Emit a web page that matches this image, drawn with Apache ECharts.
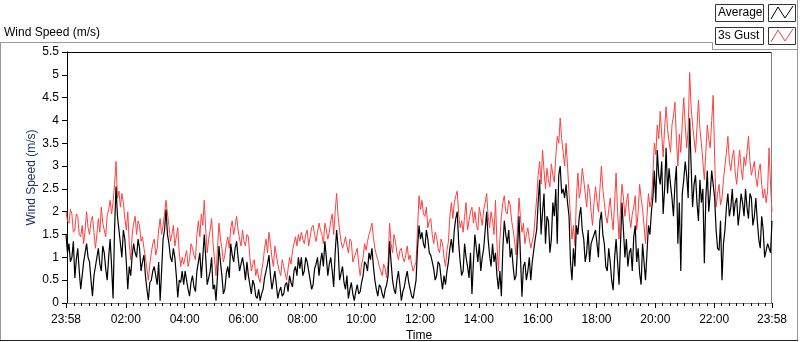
<!DOCTYPE html>
<html lang="en">
<head>
<meta charset="UTF-8">
<title>Wind Speed</title>
<style>
    html, body { margin: 0; padding: 0; background: #fff; }
    #chart { width: 800px; height: 342px; }
</style>
</head>
<body>
<div id="chart"></div>
<script src="https://cdn.jsdelivr.net/npm/echarts@6/dist/echarts.min.js"></script>
<script>
    // one sample every 3 minutes, first one at 23:58 of the day before (minute -2)
    var startMinute = -2;
    var stepMinutes = 3;

    // 3s gust (red), one row per hour
    var gust = [
        2.0, 1.8, 1.75, 2.05, 1.95, 1.55, 1.6, 1.95, 1.9, 1.5, 1.45, 1.7, 1.3, 1.6, 2.0, 1.65, 1.5, 1.8, 1.9, 1.55,
        1.2, 1.5, 1.85, 1.55, 2.1, 1.75, 1.6, 1.45, 1.9, 2.05, 2.25, 1.95, 2.2, 2.6, 3.1, 2.3, 2.45, 2.1, 2.4, 2.2,
        1.85, 1.6, 2.0, 1.3, 0.95, 1.5, 1.75, 1.9, 1.5, 1.8, 1.7, 1.35, 1.45, 1.2, 1.0, 0.75, 0.5, 0.85, 1.1, 1.3,
        1.4, 1.05, 1.2, 1.6, 1.85, 1.5, 1.7, 1.95, 2.25, 1.95, 1.7, 1.35, 1.5, 1.7, 1.25, 1.45, 1.65, 1.1, 0.8, 1.0,
        0.85, 1.0, 1.15, 0.8, 0.95, 1.3, 1.2, 1.05, 0.95, 1.5, 1.8, 1.45, 1.95, 1.7, 2.25, 1.6, 1.1, 1.4, 1.6, 1.85,
        1.3, 0.95, 0.6, 1.2, 1.75, 1.4, 1.2, 0.9, 1.05, 1.3, 1.45, 1.2, 1.65, 1.8, 1.5, 1.7, 1.9, 1.6, 1.4, 1.25,
        1.6, 1.35, 1.25, 1.5, 1.45, 1.0, 0.7, 0.85, 0.95, 0.6, 0.75, 0.55, 0.45, 0.7, 0.9, 1.2, 1.4, 1.1, 1.55, 1.3,
        1.0, 0.8, 1.25, 1.05, 0.85, 0.7, 0.6, 0.95, 0.8, 0.65, 0.5, 0.75, 1.0, 0.85, 1.15, 1.3, 1.45, 1.25, 1.5, 1.35,
        1.55, 1.4, 1.3, 1.5, 1.6, 1.25, 1.45, 1.65, 1.7, 1.5, 1.35, 1.55, 1.75, 1.6, 1.5, 1.3, 1.75, 1.6, 1.4, 1.55,
        1.8, 1.95, 1.5, 2.0, 2.4, 1.9, 1.6, 1.35, 1.2, 1.3, 1.45, 1.25, 1.1, 1.4, 1.35, 0.9, 1.0, 1.1, 1.2, 0.85,
        0.6, 0.85, 1.0, 1.3, 1.15, 1.35, 1.5, 1.6, 1.75, 1.45, 1.2, 1.05, 0.95, 0.8, 0.7, 0.6, 0.85, 0.75, 0.55, 0.9,
        1.75, 1.3, 1.1, 1.5, 1.35, 1.1, 0.95, 1.15, 1.2, 1.0, 0.9, 1.05, 1.25, 0.95, 1.05, 0.85, 0.7, 0.8, 0.9, 1.6,
        2.35, 2.05, 2.25, 1.95, 1.9, 2.1, 1.65, 1.8, 1.85, 1.5, 1.3, 1.55, 1.45, 1.2, 1.1, 1.4, 1.3, 1.0, 0.8, 1.15,
        1.35, 1.9, 2.2, 1.85, 2.2, 2.35, 2.45, 1.95, 1.65, 1.8, 1.55, 1.9, 2.2, 1.6, 1.8, 2.0, 2.1, 1.75, 2.0, 1.7,
        1.6, 2.1, 1.9, 1.7, 2.05, 2.2, 2.4, 1.9, 1.65, 2.0, 1.8, 1.5, 2.25, 1.3, 0.7, 1.4, 1.9, 2.2, 2.35, 2.0,
        1.95, 2.25, 2.15, 1.8, 1.6, 1.35, 1.05, 1.7, 2.3, 1.85, 1.55, 1.75, 1.3, 1.5, 1.65, 1.4, 1.2, 1.35, 1.5, 1.9,
        2.3, 2.8, 3.1, 2.6, 3.35, 2.9, 2.5, 2.95, 2.7, 2.55, 3.05, 2.8, 2.65, 3.2, 3.65, 3.5, 4.05, 3.6, 3.3, 3.0,
        3.5, 3.0, 2.4, 1.9, 1.4, 1.7, 1.25, 2.3, 2.85, 2.3, 2.5, 2.95, 2.7, 2.4, 2.1, 2.6, 2.45, 2.0, 1.7, 2.2,
        2.55, 2.25, 2.0, 2.5, 3.0, 2.5, 2.2, 1.9, 1.75, 2.05, 2.3, 1.9, 1.6, 2.2, 2.85, 2.0, 1.4, 2.1, 2.6, 2.3,
        1.9, 2.2, 2.4, 1.9, 1.65, 1.95, 2.1, 2.35, 1.6, 2.0, 2.6, 2.3, 2.05, 1.7, 1.3, 1.9, 2.4, 2.1, 2.25, 2.8,
        3.5, 3.25, 3.9, 3.6, 4.2, 3.7, 3.2, 3.85, 4.3, 3.8, 3.55, 3.3, 3.9, 4.1, 4.4, 3.6, 3.0, 3.7, 3.3, 3.95,
        4.5, 3.9, 3.4, 3.8, 5.05, 4.3, 3.9, 3.6, 3.3, 3.85, 4.45, 3.8, 3.5, 3.1, 2.7, 3.3, 3.9, 3.6, 3.4, 4.0,
        4.55, 3.2, 2.1, 2.4, 2.6, 2.15, 2.3, 2.7, 3.0, 3.3, 3.65, 3.1, 2.9, 3.2, 3.35, 2.85, 2.6, 3.0, 3.35, 2.95,
        2.7, 3.2, 3.0, 3.3, 3.65, 3.1, 2.8, 2.95, 3.1, 2.75, 2.55, 2.9, 3.05, 2.6, 2.3, 2.5, 2.2, 2.45, 3.4, 2.6,
        2.0
    ];

    // average (black), one row per hour
    var average = [
        1.5, 1.1, 1.3, 0.9, 1.0, 1.35, 0.55, 0.95, 1.2, 0.7, 0.3, 0.6, 0.9, 1.1, 1.3, 1.0, 0.9, 0.5, 0.15, 0.6,
        0.8, 1.0, 1.2, 0.85, 0.7, 1.25, 1.1, 0.75, 0.5, 1.0, 1.4, 0.8, 0.1, 1.6, 2.55, 1.9, 1.6, 1.3, 1.0, 1.6,
        1.4, 0.9, 0.3, 0.8, 0.6, 1.05, 1.3, 1.1, 1.0, 1.4, 1.2, 0.7, 0.9, 1.05, 0.6, 0.3, 0.06, 0.45, 0.5, 0.7,
        0.8, 0.6, 0.4, 0.9, 0.05, 0.7, 1.4, 1.6, 2.05, 1.5, 1.3, 1.0, 0.9, 1.2, 1.0, 0.6, 0.12, 0.5, 0.45, 0.7,
        0.4, 0.7, 0.5, 0.3, 0.15, 0.45, 0.6, 0.35, 0.25, 0.7, 0.9, 1.1, 0.55, 1.0, 1.5, 1.0, 0.4, 0.55, 0.7, 1.0,
        0.3, 0.4, 0.05, 0.6, 1.25, 0.9, 0.6, 0.2, 0.3, 0.65, 0.8, 0.55, 1.3, 1.05, 0.9, 1.2, 1.35, 1.0, 0.7, 0.85,
        1.0, 0.8, 0.5, 0.9, 0.6, 0.4, 0.2, 0.5, 0.4, 0.15, 0.1, 0.3, 0.05, 0.2, 0.3, 0.55, 0.7, 0.85, 1.05, 0.6,
        0.3, 0.5, 0.7, 0.4, 0.1, 0.25, 0.35, 0.15, 0.2, 0.4, 0.45, 0.25, 0.6, 0.45, 0.35, 0.7, 0.8, 0.6, 1.0, 0.75,
        1.0, 0.6, 0.7, 1.0, 0.9, 0.7, 0.5, 0.3, 0.4, 0.75, 0.85, 1.0, 0.6, 0.9, 1.1, 0.8, 1.35, 1.0, 0.6, 0.85,
        1.0, 0.7, 0.35, 1.1, 1.6, 1.2, 0.5, 0.65, 0.8, 0.45, 0.3, 0.6, 0.1, 0.3, 0.45, 0.2, 0.05, 0.25, 0.4, 0.2,
        0.25, 0.45, 0.6, 0.9, 0.85, 0.7, 1.1, 0.95, 1.2, 0.8, 0.5, 0.3, 0.15, 0.4, 0.35, 0.2, 0.1, 0.3, 0.4, 0.6,
        1.35, 0.9, 0.5, 0.3, 0.2, 0.5, 0.7, 0.4, 0.05, 0.25, 0.35, 0.55, 0.7, 0.45, 0.3, 0.15, 0.1, 0.3, 0.5, 1.2,
        1.7, 1.4, 1.55, 1.3, 1.2, 1.6, 1.4, 1.1, 1.05, 0.9, 0.75, 0.5, 0.6, 0.9, 0.85, 0.55, 0.3, 0.6, 0.4, 0.7,
        0.9, 1.2, 1.4, 1.1, 1.6, 1.85, 2.0, 1.3, 0.9, 0.6, 0.7, 1.3, 1.0, 0.8, 0.55, 1.1, 0.2, 0.9, 1.5, 1.2,
        0.9, 1.3, 0.7, 1.0, 1.2, 1.6, 2.0, 1.4, 1.05, 0.8, 1.3, 0.9, 1.1, 0.6, 0.3, 0.7, 0.15, 1.2, 1.8, 1.5,
        1.3, 1.6, 1.0, 1.2, 0.8, 0.5, 0.6, 1.2, 1.9, 1.0, 0.14, 0.8, 0.9, 0.5, 0.7, 1.0, 0.5, 0.9, 1.15, 1.4,
        1.6, 2.2, 2.7, 1.5, 2.0, 2.4, 1.3, 1.9, 1.8, 1.1, 1.4, 2.2, 1.9, 2.5, 1.3, 2.8, 3.0, 2.4, 2.5, 2.3,
        2.6, 2.2, 1.9, 0.9, 0.5, 1.2, 0.8, 1.7, 1.5, 1.9, 2.1, 1.6, 1.4, 0.9, 1.1, 1.6, 0.9, 1.3, 1.3, 1.5,
        1.6, 1.3, 1.0, 1.8, 2.0, 1.5, 1.3, 0.8, 0.7, 1.2, 0.9, 0.5, 0.28, 1.0, 1.4, 0.9, 0.4, 1.3, 2.2, 1.6,
        1.0, 1.4, 0.8, 1.1, 1.2, 0.7, 1.45, 1.7, 0.9, 1.2, 0.65, 0.4, 1.3, 0.9, 0.5, 1.1, 1.7, 1.5, 2.0, 2.3,
        2.9, 2.2, 3.35, 2.8, 2.6, 3.1, 1.95, 2.5, 3.4, 2.4, 2.95, 2.6, 2.3, 1.9, 2.6, 3.0, 1.3, 2.2, 0.7, 2.4,
        2.7, 3.1, 2.8, 2.3, 4.05, 3.0, 2.1, 2.6, 2.8, 2.2, 1.8, 2.7, 2.2, 2.5, 0.87, 2.3, 2.9, 2.0, 2.4, 2.9,
        2.6, 2.3, 1.6, 1.2, 1.15, 1.8, 0.5, 1.3, 1.6, 2.1, 2.4, 1.9, 2.1, 2.5, 1.9, 2.2, 2.3, 1.7, 2.0, 2.4,
        2.2, 1.9, 2.5, 2.1, 1.85, 2.4, 2.3, 1.7, 1.9, 2.3, 1.8, 1.4, 1.2, 1.9, 1.6, 1.0, 1.15, 1.3, 1.3, 1.1,
        1.8
    ];

    // labelled ticks on the time axis (minutes after midnight)
    var majorTicks = [-2, 120, 240, 360, 480, 600, 720, 840, 960, 1080, 1200, 1320, 1438];
    var timeLabels = ['23:58', '02:00', '04:00', '06:00', '08:00', '10:00', '12:00',
                      '14:00', '16:00', '18:00', '20:00', '22:00', '23:58'];

    // small ticks every quarter hour
    var minorTicks = [];
    for (var m = 15; m < 1438; m += 15) {
        if (m % 120 !== 0) minorTicks.push(m);
    }

    function toPairs(values) {
        return values.map(function (v, i) {
            return [startMinute + i * stepMinutes, v];
        });
    }

    var font = 'Liberation Sans, Arial, sans-serif';
    var myChart = echarts.init(document.getElementById('chart'));

    var option = {
        animation: false,
        backgroundColor: '#fff',
        textStyle: { fontFamily: font },
        grid: { left: 66, top: 52, right: 28, bottom: 39, containLabel: false, outerBoundsMode: 'none' },
        xAxis: [{
            type: 'value',
            min: -2,
            max: 1438,
            name: 'Time',
            nameLocation: 'middle',
            nameGap: 27,
            nameMoveOverlap: false,
            nameTextStyle: { color: '#000', fontSize: 12, fontFamily: font },
            axisLine: { show: true, lineStyle: { color: '#808080', width: 1 } },
            axisTick: { show: true, customValues: majorTicks, length: 5, lineStyle: { color: '#000' } },
            axisLabel: {
                customValues: majorTicks,
                color: '#000',
                fontSize: 12,
                margin: 11,
                formatter: function (v) {
                    var k = majorTicks.indexOf(v);
                    return k >= 0 ? timeLabels[k] : '';
                }
            },
            splitLine: { show: false }
        }, {
            // minor ticks only
            type: 'value',
            min: -2,
            max: 1438,
            position: 'bottom',
            axisLine: { show: false },
            axisTick: { show: true, customValues: minorTicks, length: 3, lineStyle: { color: '#000' } },
            axisLabel: { show: false },
            splitLine: { show: false }
        }],
        yAxis: {
            type: 'value',
            min: 0,
            max: 5.5,
            interval: 0.5,
            name: 'Wind Speed (m/s)',
            nameLocation: 'middle',
            nameGap: 28,
            nameMoveOverlap: false,
            nameTextStyle: { color: '#1d3461', fontSize: 12, fontFamily: font },
            axisLine: { show: true, lineStyle: { color: '#000', width: 1 } },
            axisTick: { show: true, length: 5, lineStyle: { color: '#000' } },
            axisLabel: { color: '#000', fontSize: 12, margin: 7 },
            splitLine: { show: false }
        },
        series: [{
            name: '3s Gust',
            type: 'line',
            data: toPairs(gust),
            showSymbol: false,
            lineStyle: { color: '#ff4040', width: 1 },
            itemStyle: { color: '#ff4040' }
        }, {
            name: 'Average',
            type: 'line',
            data: toPairs(average),
            showSymbol: false,
            lineStyle: { color: '#000', width: 1.2 },
            itemStyle: { color: '#000' }
        }],
        graphic: [
            // panel frame and title
            { type: 'text', left: 4, top: 27, style: { text: 'Wind Speed (m/s)', fill: '#000', font: '12px ' + font } },
            { type: 'line', shape: { x1: 0, y1: 42.5, x2: 712, y2: 42.5 }, style: { stroke: '#9a9a9a', lineWidth: 1 } },
            { type: 'line', shape: { x1: 712.5, y1: 42, x2: 712.5, y2: 49.5 }, style: { stroke: '#9a9a9a', lineWidth: 1 } },
            { type: 'line', shape: { x1: 712, y1: 49.5, x2: 798, y2: 49.5 }, style: { stroke: '#9a9a9a', lineWidth: 1 } },
            { type: 'line', shape: { x1: 797.5, y1: 0, x2: 797.5, y2: 341 }, style: { stroke: '#9a9a9a', lineWidth: 1 } },
            { type: 'line', shape: { x1: 0.5, y1: 42, x2: 0.5, y2: 341 }, style: { stroke: '#9a9a9a', lineWidth: 1 } },
            { type: 'line', shape: { x1: 0, y1: 340.5, x2: 798, y2: 340.5 }, style: { stroke: '#222', lineWidth: 1 } },
            // plot frame top and right
            { type: 'line', shape: { x1: 66, y1: 52.5, x2: 772, y2: 52.5 }, style: { stroke: '#000', lineWidth: 1 } },
            { type: 'line', shape: { x1: 771.5, y1: 52, x2: 771.5, y2: 303 }, style: { stroke: '#808080', lineWidth: 1 } },
            // legend
            { type: 'rect', shape: { x: 715.5, y: 4.5, width: 48, height: 17 }, style: { fill: '#fff', stroke: '#333', lineWidth: 1 } },
            { type: 'text', x: 718, y: 13, style: { text: 'Average', fill: '#000', font: '12px ' + font, verticalAlign: 'middle' } },
            { type: 'rect', shape: { x: 768.5, y: 4.5, width: 27, height: 17 }, style: { fill: '#fff', stroke: '#333', lineWidth: 1 } },
            { type: 'polyline', shape: { points: [[771, 19], [778, 7], [785, 18], [793, 6]] }, style: { stroke: '#000', lineWidth: 1, fill: null } },
            { type: 'rect', shape: { x: 715.5, y: 27.5, width: 48, height: 17 }, style: { fill: '#fff', stroke: '#333', lineWidth: 1 } },
            { type: 'text', x: 718, y: 36, style: { text: '3s Gust', fill: '#000', font: '12px ' + font, verticalAlign: 'middle' } },
            { type: 'rect', shape: { x: 768.5, y: 27.5, width: 27, height: 17 }, style: { fill: '#fff', stroke: '#333', lineWidth: 1 } },
            { type: 'polyline', shape: { points: [[771, 42], [778, 30], [785, 41], [793, 29]] }, style: { stroke: '#ff4040', lineWidth: 1, fill: null } }
        ]
    };

    myChart.setOption(option);
</script>
</body>
</html>
